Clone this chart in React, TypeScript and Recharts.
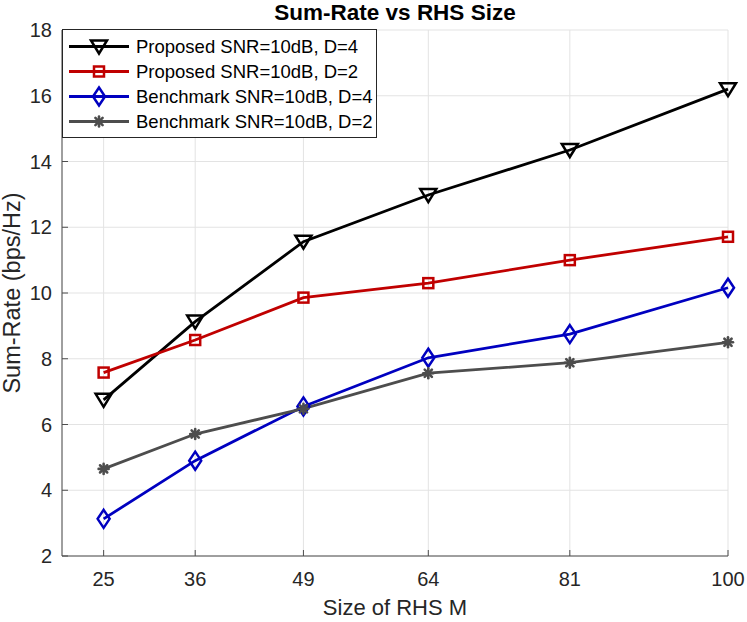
import { CartesianGrid, Legend, Line, LineChart, XAxis, YAxis } from "recharts";

document.body.style.margin = "0";

const FONT = '"Liberation Sans", Arial, Helvetica, sans-serif';
const AXIS_COLOR = "#4d4d4d";
const TEXT_COLOR = "#262626";

// RHS size M on the x axis
const rhsSizes = [25, 36, 49, 64, 81, 100];
const xTicks = [25, 36, 49, 64, 81, 100];
const yTicks = [2, 4, 6, 8, 10, 12, 14, 16, 18];

const proposedD4 = [6.75, 9.13, 11.56, 12.98, 14.35, 16.2];
const proposedD2 = [7.58, 8.57, 9.86, 10.3, 11.0, 11.71];
const benchmarkD4 = [3.13, 4.9, 6.55, 8.03, 8.75, 10.16];
const benchmarkD2 = [4.65, 5.71, 6.48, 7.56, 7.88, 8.5];

type MarkerType = "triangle" | "square" | "diamond" | "asterisk";

interface SeriesDef {
  key: string;
  label: string;
  color: string;
  marker: MarkerType;
  values: number[];
}

const SERIES: SeriesDef[] = [
  { key: "proposedD4", label: "Proposed SNR=10dB, D=4", color: "#000000", marker: "triangle", values: proposedD4 },
  { key: "proposedD2", label: "Proposed SNR=10dB, D=2", color: "#c00000", marker: "square", values: proposedD2 },
  { key: "benchmarkD4", label: "Benchmark SNR=10dB, D=4", color: "#0000c0", marker: "diamond", values: benchmarkD4 },
  { key: "benchmarkD2", label: "Benchmark SNR=10dB, D=2", color: "#4d4d4d", marker: "asterisk", values: benchmarkD2 }
];

const rows = rhsSizes.map((m, i) => {
  const row: Record<string, number> = { m };
  SERIES.forEach((s) => {
    row[s.key] = s.values[i];
  });
  return row;
});

function Marker({ type, cx, cy, color }: { type: MarkerType; cx: number; cy: number; color: string }) {
  if (cx == null || cy == null) return null;
  switch (type) {
    case "triangle":
      return (
        <polygon
          points={`${cx - 8},${cy - 6} ${cx + 8},${cy - 6} ${cx},${cy + 7}`}
          fill="none"
          stroke={color}
          strokeWidth={2.5}
        />
      );
    case "square":
      return <rect x={cx - 5} y={cy - 5} width={10} height={10} fill="none" stroke={color} strokeWidth={2.5} />;
    case "diamond":
      return (
        <polygon
          points={`${cx},${cy - 9} ${cx + 6},${cy} ${cx},${cy + 9} ${cx - 6},${cy}`}
          fill="none"
          stroke={color}
          strokeWidth={2.5}
        />
      );
    default:
      return (
        <g stroke={color} strokeWidth={2.6} strokeLinecap="round">
          <line x1={cx - 5} y1={cy} x2={cx + 5} y2={cy} />
          <line x1={cx} y1={cy - 5} x2={cx} y2={cy + 5} />
          <line x1={cx - 3.6} y1={cy - 3.6} x2={cx + 3.6} y2={cy + 3.6} />
          <line x1={cx - 3.6} y1={cy + 3.6} x2={cx + 3.6} y2={cy - 3.6} />
          <circle cx={cx} cy={cy} r={2.5} fill={color} stroke="none" />
        </g>
      );
  }
}

function LegendBox() {
  return (
    <div
      style={{
        border: `1px solid ${TEXT_COLOR}`,
        background: "#ffffff",
        width: 313,
        padding: "4px 0 3px 0",
        fontFamily: FONT,
        fontSize: 18.5,
        color: "#000000"
      }}
    >
      {SERIES.map((s) => (
        <div key={s.key} style={{ display: "flex", alignItems: "center", height: 25 }}>
          <svg width={73} height={25} style={{ flex: "none" }}>
            <line x1={6} y1={12.5} x2={66} y2={12.5} stroke={s.color} strokeWidth={2.8} />
            <Marker type={s.marker} cx={36} cy={12.5} color={s.color} />
          </svg>
          <span style={{ whiteSpace: "nowrap" }}>{s.label}</span>
        </div>
      ))}
    </div>
  );
}

export default function App() {
  return (
    <div style={{ position: "relative", width: 747, height: 622, background: "#ffffff", fontFamily: FONT }}>
      <div
        style={{
          position: "absolute",
          left: 62,
          width: 666,
          top: 0,
          height: 26,
          lineHeight: "26px",
          textAlign: "center",
          fontWeight: "bold",
          fontSize: 22.5,
          color: "#000000"
        }}
      >
        Sum-Rate vs RHS Size
      </div>
      <LineChart
        width={747}
        height={622}
        data={rows}
        margin={{ top: 30, right: 19, bottom: 0, left: 0 }}
      >
        <CartesianGrid stroke="#e3e3e3" strokeWidth={1} />
        <XAxis
          dataKey="m"
          type="number"
          domain={[20, 100]}
          ticks={xTicks}
          height={66}
          stroke={AXIS_COLOR}
          tickSize={-6}
          tickMargin={22}
          tick={{ fill: TEXT_COLOR, fontSize: 20, fontFamily: FONT }}
        />
        <XAxis
          xAxisId="top"
          orientation="top"
          dataKey="m"
          type="number"
          domain={[20, 100]}
          ticks={xTicks}
          height={0}
          stroke={AXIS_COLOR}
          tickSize={-6}
          tick={() => <g />}
        />
        <YAxis
          type="number"
          domain={[2, 18]}
          ticks={yTicks}
          width={62}
          stroke={AXIS_COLOR}
          tickSize={-6}
          tickMargin={16}
          tick={{ fill: TEXT_COLOR, fontSize: 20, fontFamily: FONT }}
        />
        <YAxis
          yAxisId="right"
          orientation="right"
          type="number"
          domain={[2, 18]}
          ticks={yTicks}
          width={0}
          stroke={AXIS_COLOR}
          tickSize={-6}
          tick={() => <g />}
        />
        <Legend
          layout="vertical"
          align="center"
          verticalAlign="middle"
          wrapperStyle={{ left: 62, top: 29, width: 315 }}
          content={() => <LegendBox />}
        />
        {SERIES.map((s) => (
          <Line
            key={s.key}
            type="linear"
            dataKey={s.key}
            name={s.label}
            stroke={s.color}
            strokeWidth={2.8}
            isAnimationActive={false}
            dot={(p: any) => <Marker key={`${s.key}-${p.index}`} type={s.marker} cx={p.cx} cy={p.cy} color={s.color} />}
            activeDot={false}
          />
        ))}
      </LineChart>
      <div
        style={{
          position: "absolute",
          left: 62,
          width: 666,
          top: 594,
          height: 28,
          lineHeight: "28px",
          textAlign: "center",
          fontSize: 22,
          color: TEXT_COLOR
        }}
      >
        Size of RHS M
      </div>
      <div
        style={{
          position: "absolute",
          left: 12 - 150,
          top: 293 - 12,
          width: 300,
          height: 24,
          lineHeight: "24px",
          textAlign: "center",
          fontSize: 23.5,
          color: TEXT_COLOR,
          transform: "rotate(-90deg)"
        }}
      >
        Sum-Rate (bps/Hz)
      </div>
    </div>
  );
}
